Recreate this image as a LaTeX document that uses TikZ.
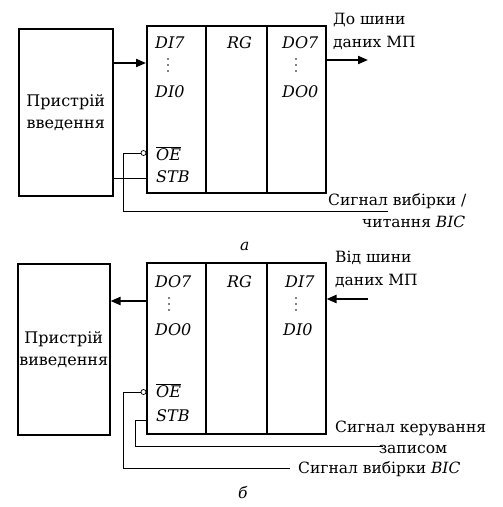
\documentclass[tikz,border=0pt]{standalone}
\usepackage{fontspec}
\setmainfont{DejaVu Serif}
\usetikzlibrary{arrows.meta}
\begin{document}
\begin{tikzpicture}[x=1pt,y=-1pt,
  box/.style={draw,line width=1.5pt,inner sep=0pt},
  wire/.style={line width=0.8pt},
  bus/.style={line width=2pt,-{Triangle[length=10pt,width=8pt]}},
  lbl/.style={inner sep=0pt,anchor=base west,font=\fontsize{15.5}{18}\selectfont},
  pin/.style={inner sep=0pt,anchor=base west,font=\fontsize{16}{18}\selectfont\itshape},
  bubble/.style={circle,draw,line width=0.7pt,fill=white,inner sep=0pt,minimum size=5pt},
  dotm/.style={circle,fill,inner sep=0pt,minimum size=1.6pt}]
\useasboundingbox (0,0) rectangle (503,507);
% ---------- a ----------
\node[box,minimum width=94pt,minimum height=167pt,anchor=north west,align=center,font=\fontsize{16}{22}\selectfont] (dev1) at (18,28) {Пристрій\\введення};
\node[box,minimum width=59pt,minimum height=167pt,anchor=north west] (a1) at (146,25) {};
\node[box,minimum width=61pt,minimum height=167pt,anchor=north west] (a2) at (205,25) {};
\node[box,minimum width=59pt,minimum height=167pt,anchor=north west] (a3) at (266,25) {};
\node[pin] (adi7) at (155,48) {DI7};
\node[pin] (adi0) at (155,97) {DI0};
\node[dotm] (ad1) at (168,59) {};
\node[dotm] (ad2) at (168,65) {};
\node[dotm] (ad3) at (168,71) {};
\node[pin] (arg) at (227,48) {RG};
\node[pin] (ado7) at (282,48) {DO7};
\node[pin] (ado0) at (282,97) {DO0};
\node[dotm] (ad4) at (296,59) {};
\node[dotm] (ad5) at (296,65) {};
\node[dotm] (ad6) at (296,71) {};
\node[pin] (aoe) at (156,160) {$\overline{\mathit{OE}}$};
\node[pin] (astb) at (156,182) {STB};
\node[bubble] (abub) at (143.5,153) {};
\coordinate (ain) at (146,63);
\coordinate (aout) at (368,60);
\draw[bus] (dev1.east |- ain) -- (ain);
\draw[bus] (a3.east |- aout) -- (aout);
\draw[wire] (dev1.east |- 0,178) -- (a1.west |- 0,178);
\coordinate (asel) at (388,211);
\draw[wire] (abub.west) -| (123,211) -- (asel);
\node[lbl] (at1) at (333,24) {До шини};
\node[lbl] (at2) at (333,47) {даних МП};
\node[lbl] (at3) at (328,205) {Сигнал вибірки /};
\node[lbl] (at4) at (362,227) {читання \textit{BIC}};
\node[lbl] (acap) at (240,250) {\textit{a}};
% ---------- b ----------
\node[box,minimum width=92pt,minimum height=171pt,anchor=north west,align=center,font=\fontsize{16}{22}\selectfont] (dev2) at (17,263) {Пристрій\\виведення};
\node[box,minimum width=59pt,minimum height=171pt,anchor=north west] (b1) at (146,262) {};
\node[box,minimum width=61pt,minimum height=171pt,anchor=north west] (b2) at (205,262) {};
\node[box,minimum width=59pt,minimum height=171pt,anchor=north west] (b3) at (266,262) {};
\node[pin] (bdo7) at (155,287) {DO7};
\node[pin] (bdo0) at (155,335) {DO0};
\node[dotm] (bd1) at (169,298) {};
\node[dotm] (bd2) at (169,304) {};
\node[dotm] (bd3) at (169,310) {};
\node[pin] (brg) at (227,287) {RG};
\node[pin] (bdi7) at (285,287) {DI7};
\node[pin] (bdi0) at (283,335) {DI0};
\node[dotm] (bd4) at (296,298) {};
\node[dotm] (bd5) at (296,304) {};
\node[dotm] (bd6) at (296,310) {};
\node[pin] (boe) at (156,397) {$\overline{\mathit{OE}}$};
\node[pin] (bstb) at (156,421) {STB};
\node[bubble] (bbub) at (143.5,392) {};
\coordinate (bin) at (368,299);
\coordinate (bout) at (146,301);
\draw[bus] (bin) -- (b3.east |- bin);
\draw[bus] (bout) -- (dev2.east |- bout);
\coordinate (bwr) at (383,446);
\coordinate (bsel) at (290,468);
\draw[wire] (b1.west |- 0,420) -| (135,446) -- (bwr);
\draw[wire] (bbub.west) -| (123,468) -- (bsel);
\node[lbl] (bt1) at (335,262) {Від шини};
\node[lbl] (bt2) at (335,285) {даних МП};
\node[lbl] (bt3) at (335,432) {Сигнал керування};
\node[lbl,anchor=base] (bt4) at (413,453) {записом};
\node[lbl] (bt5) at (298,473) {Сигнал вибірки \textit{BIC}};
\node[lbl] (bcap) at (238,498) {\textit{б}};
\end{tikzpicture}
\end{document}
